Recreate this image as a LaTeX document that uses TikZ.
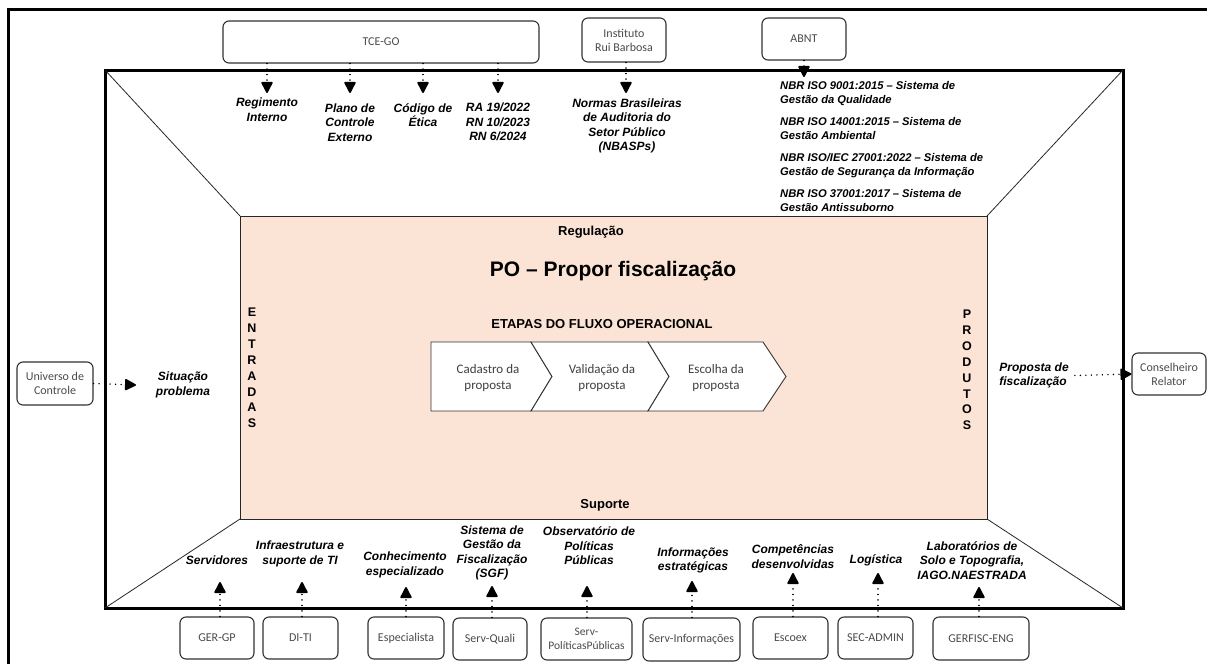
\documentclass[tikz,border=0pt]{standalone}
\usepackage{fontspec}
\setmainfont{Liberation Sans}
\newfontfamily\boxfont{Carlito}
\usetikzlibrary{arrows.meta}
\definecolor{peach}{RGB}{251,227,213}
\definecolor{boxtext}{RGB}{75,75,75}
\definecolor{boxline}{RGB}{50,50,50}
\begin{document}
\begin{tikzpicture}[x=1pt,y=-1pt,
  frame/.style={line width=3pt},
  thinline/.style={line width=0.8pt, draw=black!85},
  srcbox/.style={draw=boxline, line width=1.1pt, rounded corners=6pt, fill=white,
    font=\boxfont\fontsize{12}{14}\selectfont, text=boxtext, align=center, inner sep=0pt},
  lbl/.style={font=\bfseries\itshape\fontsize{12}{14.5}\selectfont, align=center, inner sep=0pt},
  nbrlbl/.style={font=\bfseries\itshape\fontsize{11.2}{14}\selectfont, align=left, inner sep=0pt, anchor=west},
  hdr/.style={font=\bfseries\fontsize{13}{15}\selectfont, inner sep=0pt},
  vert/.style={font=\bfseries\fontsize{12.5}{15.9}\selectfont, align=center, inner sep=0pt},
  chev/.style={draw=black!80, line width=0.9pt, fill=white},
  chevtxt/.style={font=\boxfont\fontsize{13}{16}\selectfont, text=black!75, align=center, inner sep=0pt},
  dotarr/.style={line width=1.6pt, line cap=round, dash pattern=on 0.01pt off 5.5pt,
    -{Triangle[width=12pt,length=12pt,round=false]}},
]
\useasboundingbox (0,0) rectangle (1207,664);
\fill[white] (0,0) rectangle (1207,664);

% outer frame
\draw[frame] (8,664) -- (8,9) -- (1208,9);

% inner frame, perspective
\draw[frame] (105,70) rectangle (1123,608);
\fill[peach] (240,216) rectangle (987,519);
\draw[thinline] (240,216) rectangle (987,519);
\draw[thinline] (105,70) -- (240,216);
\draw[thinline] (1123,70) -- (987,216);
\draw[thinline] (105,608) -- (240,519);
\draw[thinline] (1123,608) -- (987,519);

% central texts
\node[hdr] (regul) at (591,232) {Regulação};
\node[font=\bfseries\fontsize{21}{24}\selectfont, inner sep=0pt] (title) at (613,271) {PO – Propor fiscalização};
\node[hdr] (etapas) at (602,324) {ETAPAS DO FLUXO OPERACIONAL};
\node[hdr] (suporte) at (605,505) {Suporte};
\node[vert] (entr) at (252,368) {E\\N\\T\\R\\A\\D\\A\\S};
\node[vert] (prod) at (967,370) {P\\R\\O\\D\\U\\T\\O\\S};

% chevrons
\draw[chev] (431,342) -- (531,342) -- (552,376.5) -- (531,411) -- (431,411) -- cycle;
\draw[chev] (531,342) -- (648,342) -- (669,376.5) -- (648,411) -- (531,411) -- (552,376.5) -- cycle;
\draw[chev] (648,342) -- (763,342) -- (786,376.5) -- (763,411) -- (648,411) -- (669,376.5) -- cycle;
\node[chevtxt] (c1) at (488,378) {Cadastro da\\proposta};
\node[chevtxt] (c2) at (602,378) {Validação da\\proposta};
\node[chevtxt] (c3) at (716,378) {Escolha da\\proposta};

% top sources
\node[srcbox, minimum width=316pt, minimum height=42pt] (tce) at (381,42) {TCE-GO};
\node[srcbox, minimum width=84pt, minimum height=44pt] (irb) at (624,40) {Instituto\\Rui Barbosa};
\node[srcbox, minimum width=84pt, minimum height=42pt] (abnt) at (804,39) {ABNT};

% top labels
\node[lbl] (reg) at (267,109.5) {Regimento\\Interno};
\node[lbl] (plano) at (350,122.5) {Plano de\\Controle\\Externo};
\node[lbl] (cod) at (423,115) {Código de\\Ética};
\node[lbl] (ra) at (498,122) {RA 19/2022\\RN 10/2023\\RN 6/2024};
\node[lbl] (nbasp) at (627,126) {Normas Brasileiras\\de Auditoria do\\Setor Público\\(NBASPs)};
\node[nbrlbl] (nbr) at (780,146) {NBR ISO 9001:2015 – Sistema de\\Gestão da Qualidade\\[8pt]NBR ISO 14001:2015 – Sistema de\\Gestão Ambiental\\[8pt]NBR ISO/IEC 27001:2022 – Sistema de\\Gestão de Segurança da Informação\\[8pt]NBR ISO 37001:2017 – Sistema de\\Gestão Antissuborno};

\coordinate (t1) at (267,93);
\coordinate (t2) at (350,93);
\coordinate (t3) at (423,93);
\coordinate (t4) at (498,93);
\coordinate (t5) at (626,93);
\coordinate (t6) at (804,77);
\draw[dotarr] (tce.south -| t1) -- (t1);
\draw[dotarr] (tce.south -| t2) -- (t2);
\draw[dotarr] (tce.south -| t3) -- (t3);
\draw[dotarr] (tce.south -| t4) -- (t4);
\draw[dotarr] (irb.south -| t5) -- (t5);
\draw[dotarr] (abnt.south -| t6) -- (t6);

% left / right
\node[srcbox, minimum width=76pt, minimum height=43pt] (univ) at (55,383.5) {Universo de\\Controle};
\node[lbl] (sit) at (183,385) {Situação\\problema};
\coordinate (tl) at (136,385);
\draw[dotarr] (univ.east) -- (tl);

\node[srcbox, minimum width=74pt, minimum height=42pt] (cons) at (1169,374) {Conselheiro\\Relator};
\node[lbl, align=left] (prop) at (1034,375.5) {Proposta de\\fiscalização};
\draw[dotarr] ([xshift=6pt]prop.east) -- (cons.west);

% bottom sources
\node[srcbox, minimum width=74pt, minimum height=42pt] (gergp) at (217,638) {GER-GP};
\node[srcbox, minimum width=75pt, minimum height=42pt] (diti) at (300.5,638) {DI-TI};
\node[srcbox, minimum width=76pt, minimum height=42pt] (esp) at (406,638) {Especialista};
\node[srcbox, minimum width=74pt, minimum height=42pt] (squali) at (490,639) {Serv-Quali};
\node[srcbox, minimum width=91pt, minimum height=42pt, font=\boxfont\fontsize{11.5}{14}\selectfont] (spp) at (586.5,639) {Serv-\\PolíticasPúblicas};
\node[srcbox, minimum width=97pt, minimum height=43pt] (sinf) at (691.5,639.5) {Serv-Informações};
\node[srcbox, minimum width=75pt, minimum height=42pt] (escoex) at (790.5,638) {Escoex};
\node[srcbox, minimum width=75pt, minimum height=42pt] (secadm) at (875.5,638) {SEC-ADMIN};
\node[srcbox, minimum width=96pt, minimum height=43pt] (gerfisc) at (981,638.5) {GERFISC-ENG};

% bottom labels
\node[lbl] (serv) at (217,560) {Servidores};
\node[lbl] (infra) at (300,554) {Infraestrutura e\\suporte de TI};
\node[lbl] (conh) at (405,565) {Conhecimento\\especializado};
\node[lbl] (sgf) at (492,553) {Sistema de\\Gestão da\\Fiscalização\\(SGF)};
\node[lbl] (obs) at (589,546) {Observatório de\\Políticas\\Públicas};
\node[lbl] (info) at (693,560.5) {Informações\\estratégicas};
\node[lbl] (comp) at (793,556.5) {Competências\\desenvolvidas};
\node[lbl] (logi) at (876,560) {Logística};
\node[lbl] (lab) at (972,560.5) {Laboratórios de\\Solo e Topografia,\\IAGO.NAESTRADA};

\coordinate (b1) at (220,582);
\coordinate (b2) at (302,582);
\coordinate (b3) at (406,587);
\coordinate (b4) at (492,586);
\coordinate (b5) at (587,586);
\coordinate (b6) at (692,581);
\coordinate (b7) at (793,573);
\coordinate (b8) at (878,573);
\coordinate (b9) at (979,587);
\draw[dotarr] (gergp.north -| b1) -- (b1);
\draw[dotarr] (diti.north -| b2) -- (b2);
\draw[dotarr] (esp.north -| b3) -- (b3);
\draw[dotarr] (squali.north -| b4) -- (b4);
\draw[dotarr] (spp.north -| b5) -- (b5);
\draw[dotarr] (sinf.north -| b6) -- (b6);
\draw[dotarr] (escoex.north -| b7) -- (b7);
\draw[dotarr] (secadm.north -| b8) -- (b8);
\draw[dotarr] (gerfisc.north -| b9) -- (b9);
\end{tikzpicture}
\end{document}
